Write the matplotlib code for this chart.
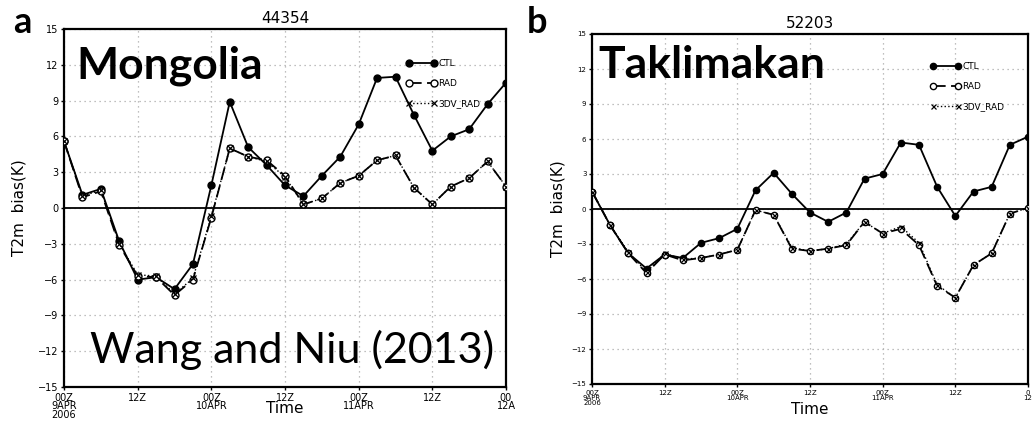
## T2m bias time series at two stations (CTL / RAD / 3DV_RAD)

import numpy as np
import matplotlib
matplotlib.use('Agg')
import matplotlib.pyplot as plt

# forecast hour from 00Z 9APR 2006, every 3 h
hours = list(range(0, 73, 3))

# station 44354 (Mongolia)
a_ctl = [5.6, 1.1, 1.6, -2.8, -6.0, -5.8, -6.8, -4.7, 1.9, 8.9, 5.1, 3.6,
         1.9, 1.0, 2.7, 4.3, 7.0, 10.9, 11.0, 7.8, 4.8, 6.0, 6.6, 8.7, 10.5]
a_rad = [5.6, 0.9, 1.4, -3.1, -5.7, -5.8, -7.3, -6.0, -0.8, 5.0, 4.3, 4.0,
         2.7, 0.3, 0.8, 2.1, 2.7, 4.0, 4.4, 1.7, 0.3, 1.8, 2.5, 3.9, 1.8]
a_3dv = [5.6, 1.0, 1.5, -3.0, -5.6, -5.7, -7.2, -5.9, -0.7, 5.0, 4.3, 3.9,
         2.6, 0.3, 0.8, 2.1, 2.7, 4.0, 4.4, 1.7, 0.3, 1.8, 2.5, 3.9, 1.8]

# station 52203 (Taklimakan)
b_ctl = [1.5, -1.4, -3.8, -5.1, -3.9, -4.2, -2.9, -2.5, -1.7, 1.6, 3.1, 1.3,
         -0.3, -1.1, -0.3, 2.6, 3.0, 5.7, 5.5, 1.9, -0.6, 1.5, 1.9, 5.5, 6.2]
b_rad = [1.5, -1.4, -3.8, -5.5, -3.9, -4.4, -4.2, -3.9, -3.5, -0.1, -0.5, -3.4,
         -3.6, -3.4, -3.1, -1.1, -2.1, -1.7, -3.1, -6.6, -7.6, -4.8, -3.8, -0.4, 0.1]
b_3dv = [1.5, -1.4, -3.7, -5.4, -3.8, -4.3, -4.2, -3.9, -3.5, -0.1, -0.5, -3.3,
         -3.6, -3.4, -3.0, -1.1, -2.1, -1.5, -2.9, -6.5, -7.6, -4.8, -3.8, -0.4, 0.1]

xticks = [0, 12, 24, 36, 48, 60, 72]
a_xlabels = ['00Z\n9APR\n2006', '12Z', '00Z\n10APR', '12Z', '00Z\n11APR', '12Z', '00\n12A']
b_xlabels = ['00Z\n9APR\n2006', '12Z', '00Z\n10APR', '12Z', '00Z\n11APR', '12Z', '0\n12']
yticks = [15, 12, 9, 6, 3, 0, -3, -6, -9, -12, -15]

W, H = 1032, 422
fig = plt.figure(figsize=(W/100, H/100), dpi=100)

def px_axes(l, t, r, b):
    return fig.add_axes([l/W, 1 - b/H, (r - l)/W, (b - t)/H])

ax1 = px_axes(64, 29, 506, 387)
ax2 = px_axes(592, 34, 1028, 384)

def draw_panel(ax, ctl, rad, tdv, title, xlabels, tfs, ms, leg_xy, leg_fs):
    ax.plot(hours, ctl, '-', color='k', lw=1.3, marker='o', ms=ms, mfc='k', mec='k', label='CTL', zorder=3)
    ax.plot(hours, rad, color='k', lw=1.3, dashes=(7, 3), marker='o', ms=ms, mfc='white', mec='k',
            mew=1.0, label='RAD', zorder=4)
    ax.plot(hours, tdv, ':', color='k', lw=1.0, marker='x', ms=ms*0.8, mec='k', mew=0.9,
            label='3DV_RAD', zorder=5)
    ax.axhline(0, color='k', lw=1.3, zorder=2)
    ax.set_xlim(0, 72)
    ax.set_ylim(-15, 15)
    ax.set_xticks(xticks)
    ax.set_xticklabels(xlabels, fontsize=tfs, linespacing=0.85)
    ax.set_yticks(yticks)
    ax.set_yticklabels([str(v).replace('-', '\u2212') for v in yticks], fontsize=tfs)
    ax.tick_params(direction='out', length=2.5, width=1, pad=1.5)
    ax.grid(True, color='#aaaaaa', ls=(0, (1, 3)), lw=0.9)
    for s in ax.spines.values():
        s.set_linewidth(1.6)
    ax.set_title(title, fontsize=11, pad=4)
    ax.set_xlabel('Time', fontsize=11)
    ax.set_ylabel('T2m  bias(K)', fontsize=11)
    ax.legend(loc='upper left', bbox_to_anchor=leg_xy, frameon=False, numpoints=2,
              fontsize=leg_fs, handlelength=3.3, handletextpad=0.2, labelspacing=1.2,
              borderpad=0, borderaxespad=0)

draw_panel(ax1, a_ctl, a_rad, a_3dv, '44354', a_xlabels, 7, 5, (0.775, 0.915), 6.5)
draw_panel(ax2, b_ctl, b_rad, b_3dv, '52203', b_xlabels, 5, 4.5, (0.777, 0.92), 6.5)

ax1.yaxis.set_label_coords(-0.084, 0.5)
ax2.yaxis.set_label_coords(-0.06, 0.5)
ax1.xaxis.set_label_coords(0.5, -0.04)
ax2.xaxis.set_label_coords(0.5, -0.05)

# overlay annotations
ax1.text(0.029, 0.863, 'Mongolia', transform=ax1.transAxes, fontsize=32, fontweight='bold',
         family='Lato', va='baseline', ha='left', zorder=10)
ax1.text(0.059, 0.067, 'Wang and Niu (2013)', transform=ax1.transAxes, fontsize=31,
         family='Lato', va='baseline', ha='left', zorder=10)
ax2.text(0.014, 0.875, 'Taklimakan', transform=ax2.transAxes, fontsize=32, fontweight='bold',
         family='Lato', va='baseline', ha='left', zorder=10)
fig.text(13/W, 1 - 33/H, 'a', fontsize=26, fontweight='bold', family='Lato', va='baseline')
fig.text(527/W, 1 - 33/H, 'b', fontsize=26, fontweight='bold', family='Lato', va='baseline')

fig.savefig('out.png', dpi=100)
